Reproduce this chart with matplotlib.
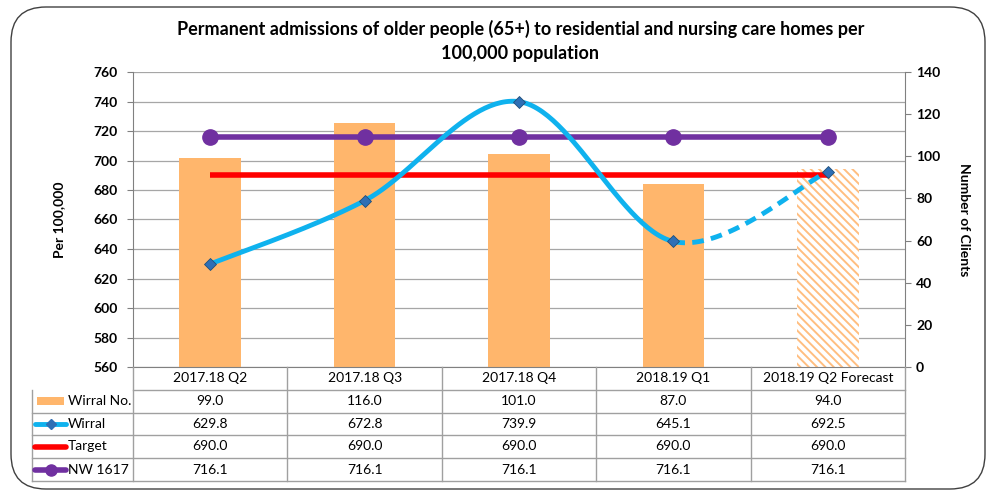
import numpy as np
import matplotlib
matplotlib.use("Agg")
import matplotlib.pyplot as plt
from matplotlib.patches import Rectangle, FancyBboxPatch
from matplotlib.lines import Line2D
from matplotlib.transforms import blended_transform_factory

plt.rcParams['font.family'] = ['Lato', 'DejaVu Sans']
plt.rcParams['hatch.linewidth'] = 1.4

categories = ["2017.18 Q2", "2017.18 Q3", "2017.18 Q4", "2018.19 Q1", "2018.19 Q2 Forecast"]
wirral_no = [99.0, 116.0, 101.0, 87.0, 94.0]
wirral = [629.8, 672.8, 739.9, 645.1, 692.5]
target = [690.0, 690.0, 690.0, 690.0, 690.0]
nw1617 = [716.1, 716.1, 716.1, 716.1, 716.1]
title = "Permanent admissions of older people (65+) to residential and nursing care homes per\n100,000 population"

W, H = 997, 495
fig = plt.figure(figsize=(W / 100, H / 100), dpi=100)

def fx(px):
    return px / W

def fy(py):
    return 1 - py / H

# outer rounded frame
frame = FancyBboxPatch((fx(11), fy(489)), fx(974), fy(7) - fy(489),
                       boxstyle="round,pad=0,rounding_size=0.035",
                       transform=fig.transFigure, facecolor="white",
                       edgecolor="#404040", lw=1.0, zorder=-10,
                       mutation_aspect=W / H)
fig.patches.append(frame)

L, R, T, B = 133, 905, 72, 367
pos = [fx(L), fy(B), fx(R) - fx(L), fy(T) - fy(B)]

bar_color = "#FFB66C"
x = np.arange(len(categories))

# grid axes (bottom)
axg = fig.add_axes(pos)
axg.set_ylim(560, 760)
axg.set_xlim(-0.5, len(categories) - 0.5)
axg.set_yticks(np.arange(560, 761, 20))
axg.grid(axis='y', color="#A6A6A6", lw=0.9)
axg.tick_params(left=False, bottom=False, labelleft=False, labelbottom=False)
for s in axg.spines.values():
    s.set_visible(False)
axg.patch.set_facecolor("white")

# bars axes (middle, right scale)
axb = fig.add_axes(pos, sharex=axg)
axb.patch.set_visible(False)
axb.set_ylim(0, 140)
axb.set_yticks(np.arange(0, 141, 20))
axb.yaxis.tick_right()
axb.yaxis.set_label_position("right")
axb.bar(x[:-1], wirral_no[:-1], width=0.4, color=bar_color, zorder=2)
axb.bar(x[-1:], wirral_no[-1:], width=0.4, facecolor="white", edgecolor="#FFBE80",
        hatch="\\\\\\\\", lw=0, zorder=2)
axb.tick_params(axis='y', direction='out', length=4, color="#808080", labelsize=10, pad=4)
axb.tick_params(axis='x', bottom=False, labelbottom=False)
for lab in axb.get_yticklabels():
    lab.set_fontweight("bold")
for k in ["top", "left", "bottom"]:
    axb.spines[k].set_visible(False)
axb.spines["right"].set_color("#808080")
axb.set_ylabel("Number of Clients", rotation=-90, fontweight="bold", fontsize=10, labelpad=21)

# line axes (top, left scale)
axl = fig.add_axes(pos, sharex=axg)
axl.patch.set_visible(False)
axl.set_ylim(560, 760)
axl.set_yticks(np.arange(560, 761, 20))
axl.tick_params(axis='y', direction='out', length=4, color="#808080", labelsize=10, pad=7)
axl.tick_params(axis='x', bottom=False, labelbottom=False)
for lab in axl.get_yticklabels():
    lab.set_fontweight("bold")
for k in ["top", "right"]:
    axl.spines[k].set_visible(False)
axl.spines["left"].set_color("#808080")
axl.spines["bottom"].set_color("#808080")
axl.set_ylabel("Per 100,000", fontweight="bold", fontsize=10, labelpad=20)

# smoothed Wirral line (Bezier / Catmull-Rom as in Excel smoothing)
P = np.column_stack([x, wirral]).astype(float)
n = len(P)
segs = []
for i in range(n - 1):
    p0, p3 = P[i], P[i + 1]
    pm = P[i - 1] if i > 0 else P[i]
    pp = P[i + 2] if i + 2 < n else P[i + 1]
    c1 = p0 + (p3 - pm) / 6
    c2 = p3 - (pp - p0) / 6
    t = np.linspace(0, 1, 60)[:, None]
    seg = (1 - t) ** 3 * p0 + 3 * (1 - t) ** 2 * t * c1 + 3 * (1 - t) * t ** 2 * c2 + t ** 3 * p3
    segs.append(seg)
solid = np.vstack(segs[:-1])
dashed = segs[-1]
wcol = "#0FB2EE"
axl.plot(x, target, color="#FF0000", lw=4, zorder=3, solid_capstyle="butt")
axl.plot(x, nw1617, color="#7030A0", lw=4, marker="o", ms=11, zorder=4)
axl.plot(solid[:, 0], solid[:, 1], color=wcol, lw=3.5, zorder=5, solid_capstyle="round")
axl.plot(dashed[:, 0], dashed[:, 1], color=wcol, lw=3.5, ls=(0, (2.4, 1.5)), zorder=5)
axl.plot(x, wirral, ls="none", marker="D", ms=6.5, color="#2F6FB5", mec="#1F4E79", mew=0.6, zorder=6)

fig.text(0.522, fy(41), title, ha="center", va="center", fontsize=13, fontweight="bold",
         linespacing=1.55)

# data table
tr = blended_transform_factory(axl.transData, fig.transFigure)
tf = fig.transFigure
gc = "#A0A0A0"
TL = 32
rows_y = [367, 390, 412.5, 435, 458, 481]
col_edges = [L] + [(L + (R - L) * (i + 1) / len(categories)) for i in range(len(categories))]
fig.add_artist(Line2D([fx(L), fx(R)], [fy(rows_y[1])] * 2, color=gc, lw=1, transform=tf))
for yy in rows_y[2:]:
    fig.add_artist(Line2D([fx(TL), fx(R)], [fy(yy)] * 2, color=gc, lw=1, transform=tf))
fig.add_artist(Line2D([fx(TL), fx(TL)], [fy(rows_y[1]), fy(rows_y[-1])], color=gc, lw=1, transform=tf))
for xe in col_edges:
    fig.add_artist(Line2D([fx(xe), fx(xe)], [fy(rows_y[0]), fy(rows_y[-1])], color=gc, lw=1, transform=tf))

def cy(r):
    return fy((rows_y[r] + rows_y[r + 1]) / 2)

for i, c in enumerate(categories):
    fig.text(x[i], cy(0), c, transform=tr, ha="center", va="center", fontsize=10)
series = [wirral_no, wirral, target, nw1617]
for r, vals in enumerate(series, start=1):
    for i, v in enumerate(vals):
        fig.text(x[i], cy(r), f"{v:.1f}", transform=tr, ha="center", va="center", fontsize=10)

labels = ["Wirral No.", "Wirral", "Target", "NW 1617"]
for r, lab in enumerate(labels, start=1):
    fig.text(fx(68), cy(r), lab, ha="left", va="center", fontsize=10)
# legend keys
fig.add_artist(Rectangle((fx(37), cy(1) - 4 / H), fx(27), 8 / H, transform=tf,
                         facecolor=bar_color, edgecolor="none"))
fig.add_artist(Line2D([fx(35), fx(66)], [cy(2)] * 2, color=wcol, lw=3.5, transform=tf,
                      solid_capstyle="round"))
fig.add_artist(Line2D([fx(50.5)], [cy(2)], marker="D", ms=5.5, color="#2F6FB5", transform=tf))
fig.add_artist(Line2D([fx(35), fx(66)], [cy(3)] * 2, color="#FF0000", lw=4, transform=tf,
                      solid_capstyle="round"))
fig.add_artist(Line2D([fx(35), fx(66)], [cy(4)] * 2, color="#7030A0", lw=4, transform=tf,
                      solid_capstyle="round"))
fig.add_artist(Line2D([fx(50.5)], [cy(4)], marker="o", ms=8, color="#7030A0", transform=tf))

fig.savefig("out.png", dpi=100)
